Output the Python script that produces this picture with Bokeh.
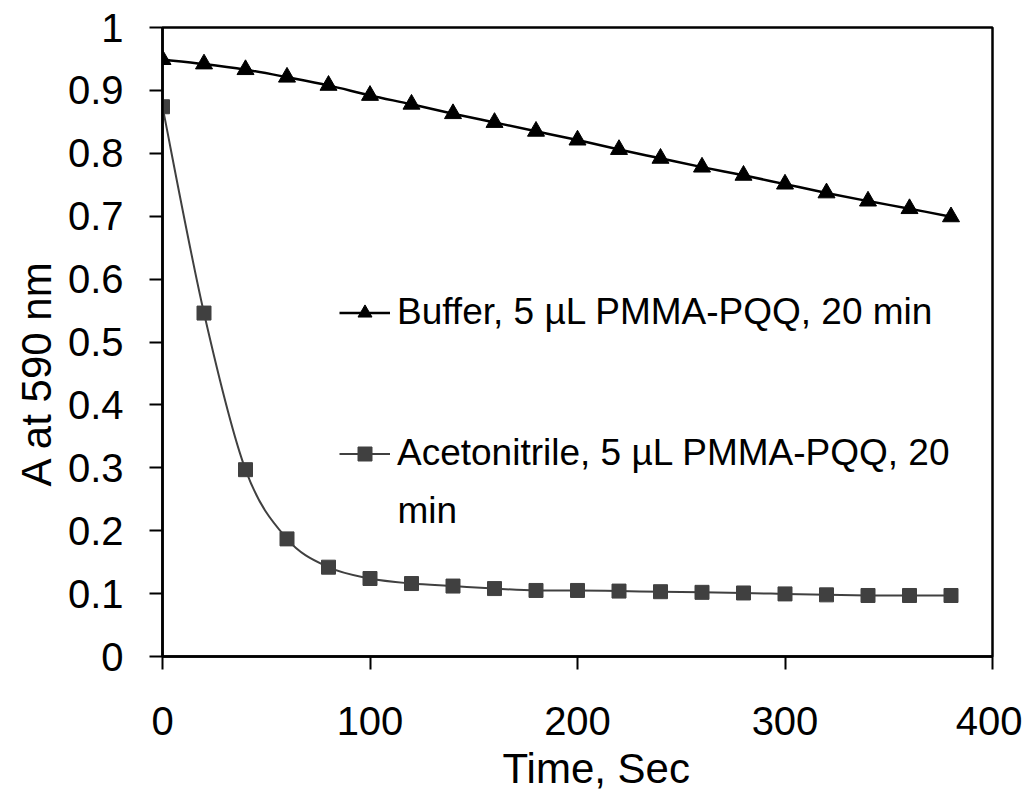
from bokeh.plotting import figure
from bokeh.models import (Range1d, FixedTicker, Legend, LegendItem, Label,
                          Title, ColumnDataSource)
from bokeh.embed import file_html
from bokeh.resources import INLINE

# ---------------- data ----------------
time_s = [0, 20, 40, 60, 80, 100, 120, 140, 160, 180, 200, 220, 240, 260,
          280, 300, 320, 340, 360, 380]
buffer_abs = [0.949, 0.942, 0.933, 0.921, 0.908, 0.892, 0.878, 0.863, 0.849,
              0.835, 0.821, 0.806, 0.792, 0.778, 0.765, 0.751, 0.737, 0.724,
              0.712, 0.699]
acn_abs = [0.874, 0.546, 0.297, 0.187, 0.142, 0.124, 0.116, 0.112, 0.108,
           0.105, 0.105, 0.104, 0.103, 0.102, 0.101, 0.0995, 0.098, 0.097,
           0.097, 0.097]
series_names = ["Buffer, 5 µL PMMA-PQQ, 20 min",
                "Acetonitrile, 5 µL PMMA-PQQ, 20",
                "min"]
x_ticks = [0, 100, 200, 300, 400]
x_tick_labels = ["0", "100", "200", "300", "400"]
y_ticks = [0, 0.1, 0.2, 0.3, 0.4, 0.5, 0.6, 0.7, 0.8, 0.9, 1]
y_tick_labels = ["0", "0.1", "0.2", "0.3", "0.4", "0.5", "0.6", "0.7", "0.8",
                 "0.9", "1"]
x_title = "Time, Sec"
y_title = "A at 590 nm"

FONT = "Liberation Sans"


def smooth_segments(xs, ys):
    """Catmull-Rom style cubic Bezier control points (Excel-like smoothing)."""
    n = len(xs)
    d = dict(x0=[], y0=[], x1=[], y1=[], cx0=[], cy0=[], cx1=[], cy1=[])
    for i in range(n - 1):
        im = max(i - 1, 0)
        ip = min(i + 2, n - 1)
        d["x0"].append(xs[i]); d["y0"].append(ys[i])
        d["x1"].append(xs[i + 1]); d["y1"].append(ys[i + 1])
        d["cx0"].append(xs[i] + (xs[i + 1] - xs[im]) / 6.0)
        d["cy0"].append(ys[i] + (ys[i + 1] - ys[im]) / 6.0)
        d["cx1"].append(xs[i + 1] - (xs[ip] - xs[i]) / 6.0)
        d["cy1"].append(ys[i + 1] - (ys[ip] - ys[i]) / 6.0)
    return ColumnDataSource(d)


p = figure(width=1022, height=796, output_backend="svg", toolbar_location=None,
           x_range=Range1d(0, 400), y_range=Range1d(0, 1),
           min_border_left=162, min_border_right=30, min_border_top=27,
           min_border_bottom=139)

p.xgrid.visible = False
p.ygrid.visible = False
p.outline_line_color = "black"
p.outline_line_width = 2.5
p.background_fill_color = "white"
p.border_fill_color = "white"

for ax, ticks, labels in ((p.xaxis[0], x_ticks, x_tick_labels),
                          (p.yaxis[0], y_ticks, y_tick_labels)):
    ax.ticker = FixedTicker(ticks=ticks)
    ax.major_label_overrides = dict(zip(ticks, labels))
    ax.axis_line_color = "black"
    ax.axis_line_width = 2.5
    ax.major_tick_line_color = "black"
    ax.major_tick_line_width = 2
    ax.major_tick_out = 13
    ax.major_tick_in = 0
    ax.minor_tick_line_color = None
    ax.major_label_text_font = FONT
    ax.major_label_text_font_size = "40px"
    ax.major_label_text_color = "black"

p.xaxis[0].major_label_standoff = 37
p.yaxis[0].major_label_standoff = 26

# ---------------- series ----------------
buf_curve = p.bezier(source=smooth_segments(time_s, buffer_abs),
                     x0="x0", y0="y0", x1="x1", y1="y1",
                     cx0="cx0", cy0="cy0", cx1="cx1", cy1="cy1",
                     line_color="black", line_width=2.5)
buf_pts = p.scatter(time_s, buffer_abs, marker="triangle", size=17,
                    fill_color="black", line_color="black")

acn_curve = p.bezier(source=smooth_segments(time_s, acn_abs),
                     x0="x0", y0="y0", x1="x1", y1="y1",
                     cx0="cx0", cy0="cy0", cx1="cx1", cy1="cy1",
                     line_color="#404040", line_width=2)
acn_pts = p.scatter(time_s, acn_abs, marker="square", size=14,
                    fill_color="#404040", line_color="#404040")

# ---------------- legends ----------------
def make_legend(label, renderers, loc):
    lg = Legend(items=[LegendItem(label=label, renderers=renderers)],
                location=loc, orientation="vertical",
                background_fill_alpha=0, border_line_color=None,
                padding=0, margin=0, spacing=0,
                glyph_width=51, glyph_height=35, label_standoff=7,
                label_text_font=FONT, label_text_font_size="37px",
                label_text_color="black")
    p.add_layout(lg, "center")
    return lg


make_legend(series_names[0], [buf_curve, buf_pts], (177, 323))
make_legend(series_names[1], [acn_curve, acn_pts], (177, 182))

p.add_layout(Label(x=235, y=146, x_units="screen", y_units="screen",
                   text=series_names[2], text_font=FONT,
                   text_font_size="37px", text_color="black",
                   text_align="left", text_baseline="alphabetic"))

# ---------------- axis titles ----------------
p.add_layout(Title(text=x_title, align="left", offset=340, standoff=10,
                   text_font=FONT, text_font_size="42px",
                   text_font_style="normal", text_color="black"), "below")
p.add_layout(Title(text=y_title, align="left", offset=170, standoff=10,
                   text_font=FONT, text_font_size="42px",
                   text_font_style="normal", text_color="black"), "left")

open("out.html", "w").write(file_html(p, INLINE))
